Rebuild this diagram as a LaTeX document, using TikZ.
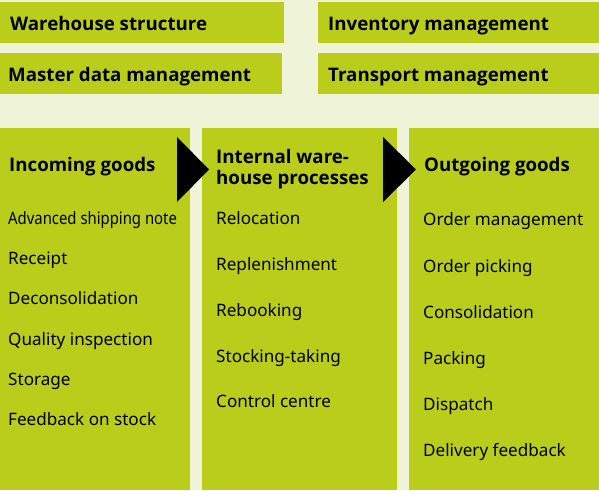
\documentclass[tikz,border=0pt]{standalone}
\usepackage{fontspec}
\setmainfont{Noto Sans}
\newfontfamily\hdfont{Open Sans}
\definecolor{bgc}{HTML}{EFF3D8}
\definecolor{grn}{HTML}{B9CD1A}
\begin{document}
\begin{tikzpicture}[x=1pt,y=-1pt,
  box/.style={fill=grn,draw=none},
  head/.style={anchor=base west,inner sep=0pt,font=\hdfont\fontsize{18.7}{21}\selectfont\bfseries,align=left},
  item/.style={anchor=base west,inner sep=0pt,font=\fontsize{17.1}{20}\selectfont}]
\fill[bgc] (0,0) rectangle (599,490);
\useasboundingbox (0,0) rectangle (599,490);
% top boxes
\fill[box] (0,2) rectangle (284,43);
\fill[box] (0,53) rectangle (282,94);
\fill[box] (318,2) rectangle (599,43);
\fill[box] (318,53) rectangle (599,94);
\node[head] (ws) at (10,30.5) {Warehouse structure};
\node[head] (md) at (8,81) {Master data management};
\node[head] (im) at (328,30.5) {Inventory management};
\node[head] (tm) at (328,81) {Transport management};
% columns
\fill[box] (0,128) rectangle (190,490);
\fill[box] (202,128) rectangle (397,490);
\fill[box] (409,128) rectangle (599,490);
\fill[black] (177,137) -- (209,169.5) -- (177,202) -- cycle;
\fill[black] (383,137) -- (416,169.5) -- (383,202) -- cycle;
\node[head] (ig) at (9,171) {Incoming goods};
\node[head] (ih) at (216,163) {Internal ware-};
\node[head] (ih2) at (216,184) {house processes};
\node[head] (og) at (424,171) {Outgoing goods};
% column 1
\node[item] (a1) at (8,224) {\scalebox{0.87}[1]{Advanced shipping note}};
\node[item] (a2) at (8,264) {Receipt};
\node[item] (a3) at (8,304.5) {Deconsolidation};
\node[item] (a4) at (8,345) {Quality inspection};
\node[item] (a5) at (8,385) {Storage};
\node[item] (a6) at (8,425) {Feedback on stock};
% column 2
\node[item] (b1) at (216,224) {Relocation};
\node[item] (b2) at (216,270) {Replenishment};
\node[item] (b3) at (216,316) {Rebooking};
\node[item] (b4) at (216,362) {Stocking-taking};
\node[item] (b5) at (216,407) {Control centre};
% column 3
\node[item] (c1) at (423,225) {Order management};
\node[item] (c2) at (423,272) {Order picking};
\node[item] (c3) at (423,318) {Consolidation};
\node[item] (c4) at (423,364) {Packing};
\node[item] (c5) at (423,410) {Dispatch};
\node[item] (c6) at (423,456) {Delivery feedback};
\end{tikzpicture}
\end{document}
